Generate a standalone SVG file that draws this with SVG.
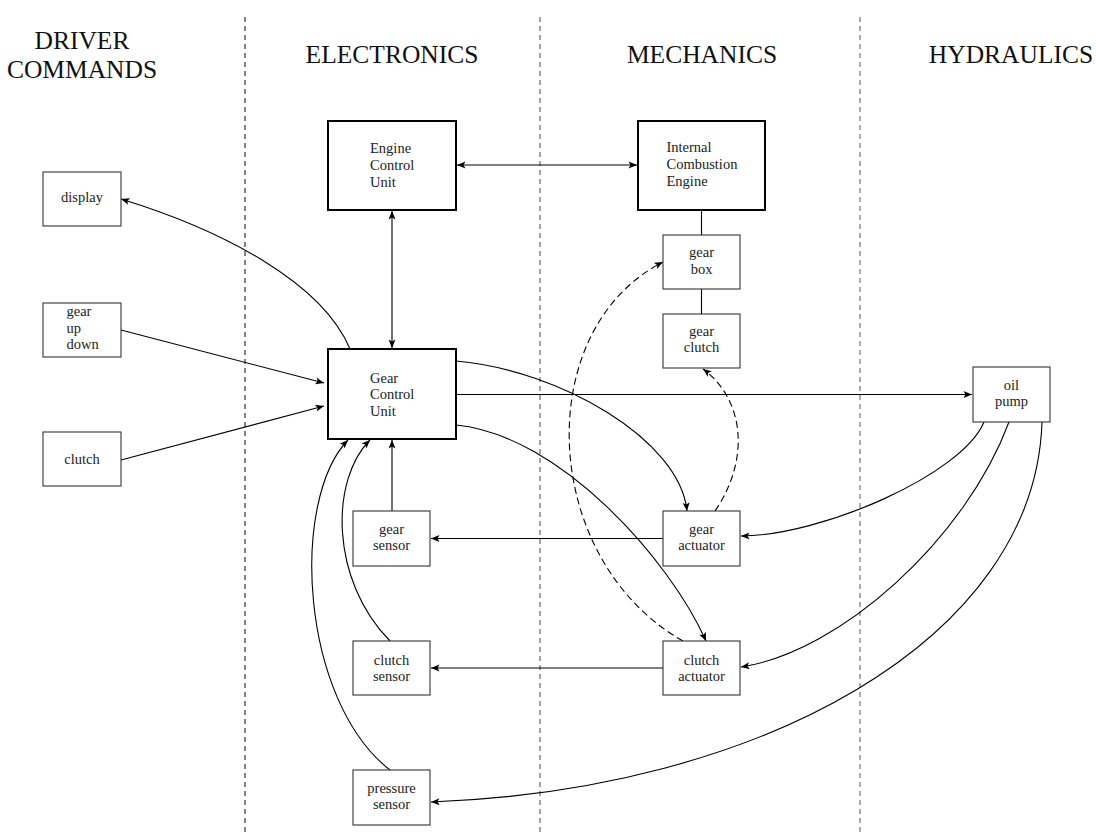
<svg xmlns="http://www.w3.org/2000/svg" width="1096" height="833" viewBox="0 0 1096 833">
<style>
.hdr{font-family:"Liberation Serif","DejaVu Serif",serif;font-size:25.5px;fill:#111;text-anchor:middle}
.t{font-family:"Liberation Serif","DejaVu Serif",serif;font-size:14.5px;fill:#222}
.c{text-anchor:middle}
.box{fill:#fff;stroke:#333;stroke-width:1.1}
.tbox{fill:#fff;stroke:#000;stroke-width:2}
.div{stroke-width:1.2;stroke-dasharray:5 4;fill:none}
.ln{fill:none;stroke:#000;stroke-width:1.1}
.ar{marker-end:url(#ah)}
.dbl{marker-start:url(#ah);marker-end:url(#ah)}
.dash{stroke-dasharray:7 4}
</style>
<defs>
<marker id="ah" markerUnits="userSpaceOnUse" markerWidth="12" markerHeight="10" viewBox="-10 -5 12 10" refX="0" refY="0" orient="auto-start-reverse">
<path d="M-8.5,-3.5 L0,0 L-8.5,3.5 L-6.5,0 Z" fill="#000"/>
</marker>
</defs>
<g id="dividers">
<line class="div" x1="245" y1="17" x2="245" y2="833" stroke="#333"/>
<line class="div" x1="540" y1="17" x2="540" y2="833" stroke="#666"/>
<line class="div" x1="860" y1="17" x2="860" y2="833" stroke="#777"/>
</g>
<g id="headers">
<text class="hdr" x="82" y="48.5">DRIVER</text>
<text class="hdr" x="82" y="77.5">COMMANDS</text>
<text class="hdr" x="392" y="62.5">ELECTRONICS</text>
<text class="hdr" x="702" y="62.5">MECHANICS</text>
<text class="hdr" x="1011" y="62.5">HYDRAULICS</text>
</g>
<g id="connectors">
<path class="ln dbl" d="M457,165 H637"/>
<path class="ln dbl" d="M392,211 V348"/>
<path class="ln" d="M701.5,210 V235"/>
<path class="ln" d="M701.5,289 V314"/>
<path class="ln ar" d="M456,394.5 H972"/>
<path class="ln ar" d="M121,330 L324,383"/>
<path class="ln ar" d="M121,460 L324,406"/>
<path class="ln ar" d="M350,349 C322,282 222,230 121,199"/>
<path class="ln ar" d="M392,511 V440"/>
<path class="ln ar" d="M663,538.5 H431"/>
<path class="ln ar" d="M663,668 H431"/>
<path class="ln ar" d="M390,641 C330,580 330,480 370,440"/>
<path class="ln ar" d="M390,770 C300,700 290,500 348,440"/>
<path class="ln ar" d="M456,361 C560,370 680,440 687,511"/>
<path class="ln ar" d="M456,425 C560,435 670,560 706,641"/>
<path class="ln ar" d="M984,422 C962,475 820,536 741,536"/>
<path class="ln ar" d="M1009,422 C965,540 840,652 741,667"/>
<path class="ln ar" d="M1042,422 C1035,640 760,790 431,802"/>
<path class="ln ar dash" d="M715,511 C750,460 745,400 703,369"/>
<path class="ln ar dash" d="M683,641 C540,560 530,330 663,262"/>
</g>
<g id="display"><rect class="box" x="43" y="172" width="78" height="54"/><text class="t c" x="82" y="202">display</text></g>
<g id="gear-up-down"><rect class="box" x="43" y="303" width="78" height="54"/>
<text class="t" x="66.5" y="316">gear</text><text class="t" x="66.5" y="332.5">up</text><text class="t" x="66.5" y="349">down</text></g>
<g id="clutch"><rect class="box" x="43" y="432" width="78" height="54"/><text class="t c" x="82" y="463.5">clutch</text></g>
<g id="ecu"><rect class="tbox" x="328" y="121" width="128" height="89"/>
<text class="t" x="370" y="153">Engine</text><text class="t" x="370" y="169.5">Control</text><text class="t" x="370" y="186.5">Unit</text></g>
<g id="gcu"><rect class="tbox" x="328" y="349" width="128" height="90"/>
<text class="t" x="370" y="383">Gear</text><text class="t" x="370" y="399">Control</text><text class="t" x="370" y="416">Unit</text></g>
<g id="ice"><rect class="tbox" x="638" y="121" width="127" height="89"/>
<text class="t" x="666.5" y="152">Internal</text><text class="t" x="666.5" y="169">Combustion</text><text class="t" x="666.5" y="186">Engine</text></g>
<g id="gear-box"><rect class="box" x="663" y="235" width="77" height="54"/>
<text class="t c" x="701.5" y="257">gear</text><text class="t c" x="701.5" y="273.5">box</text></g>
<g id="gear-clutch"><rect class="box" x="663" y="314" width="77" height="54"/>
<text class="t c" x="701.5" y="336">gear</text><text class="t c" x="701.5" y="352">clutch</text></g>
<g id="oil-pump"><rect class="box" x="973" y="367" width="77" height="55"/>
<text class="t c" x="1011.5" y="390">oil</text><text class="t c" x="1011.5" y="406">pump</text></g>
<g id="gear-sensor"><rect class="box" x="353" y="511" width="77" height="55"/>
<text class="t c" x="391.5" y="534">gear</text><text class="t c" x="391.5" y="550">sensor</text></g>
<g id="gear-actuator"><rect class="box" x="663" y="511" width="77" height="55"/>
<text class="t c" x="701.5" y="534">gear</text><text class="t c" x="701.5" y="550">actuator</text></g>
<g id="clutch-sensor"><rect class="box" x="353" y="641" width="77" height="54"/>
<text class="t c" x="391.5" y="664.5">clutch</text><text class="t c" x="391.5" y="681">sensor</text></g>
<g id="clutch-actuator"><rect class="box" x="663" y="641" width="77" height="54"/>
<text class="t c" x="701.5" y="664.5">clutch</text><text class="t c" x="701.5" y="681">actuator</text></g>
<g id="pressure-sensor"><rect class="box" x="353" y="770" width="77" height="55"/>
<text class="t c" x="391.5" y="793">pressure</text><text class="t c" x="391.5" y="809">sensor</text></g>
</svg>
